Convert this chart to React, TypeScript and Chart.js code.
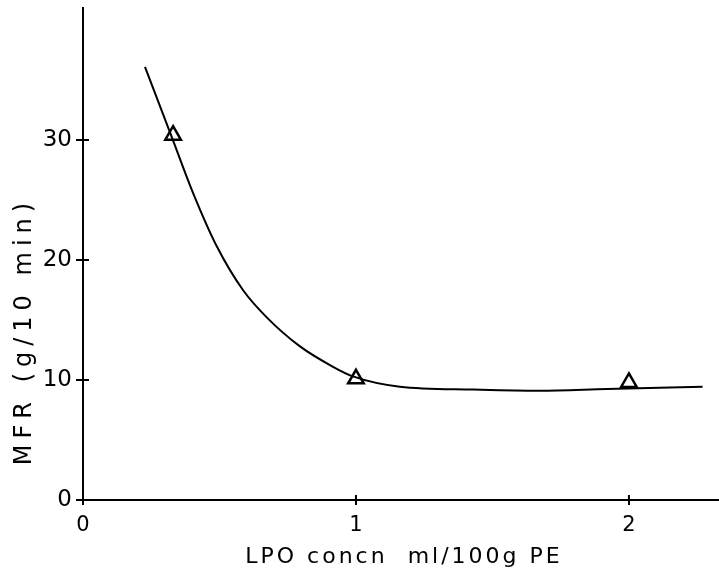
import React, { useEffect, useRef } from "react";
import { Chart, registerables } from "chart.js";

Chart.register(...registerables);

// Measured points (LPO concentration, MFR)
const pointX = [0.33, 1.0, 2.0];
const pointY = [30.4, 10.1, 9.8];

// Fitted curve
const curveX = [0.227, 0.326, 0.403, 0.491, 0.586, 0.674, 0.795, 0.916, 0.989, 1.161, 1.43, 1.67, 1.92, 2.27];
const curveY = [36.1, 30.2, 25.6, 21.1, 17.5, 15.2, 12.8, 11.1, 10.3, 9.44, 9.2, 9.1, 9.25, 9.44];

const xTicks = [0, 1, 2];
const yTicks = [0, 10, 20, 30];

const xTitle = "LPO concn  ml/100g PE";
const yTitle = "MFR (g/10 min)";

const FONT = "'DejaVu Sans', sans-serif";

const titlesAndInnerTicks = {
  id: "titlesAndInnerTicks",
  afterDraw(chart: any) {
    const ctx = chart.ctx as CanvasRenderingContext2D;
    const xs = chart.scales.x;
    const ys = chart.scales.y;
    const area = chart.chartArea;
    ctx.save();
    ctx.strokeStyle = "#000";
    ctx.lineWidth = 2;
    // inner halves of the crossing tick marks
    yTicks.forEach((v) => {
      if (v === 0) return;
      const py = ys.getPixelForValue(v);
      ctx.beginPath();
      ctx.moveTo(area.left, py);
      ctx.lineTo(area.left + 6, py);
      ctx.stroke();
    });
    xTicks.forEach((v) => {
      if (v === 0) return;
      const px = xs.getPixelForValue(v);
      ctx.beginPath();
      ctx.moveTo(px, area.bottom);
      ctx.lineTo(px, area.bottom - 5);
      ctx.stroke();
    });
    // axis titles
    ctx.fillStyle = "#000";
    ctx.textAlign = "center";
    ctx.textBaseline = "alphabetic";
    (ctx as any).letterSpacing = "3px";
    ctx.font = `22px ${FONT}`;
    ctx.fillText(xTitle, 404, 563);
    ctx.translate(31, 334);
    ctx.rotate(-Math.PI / 2);
    (ctx as any).letterSpacing = "6px";
    ctx.font = `24px ${FONT}`;
    ctx.fillText(yTitle, 3, 0);
    ctx.restore();
  },
};

export default function App() {
  const ref = useRef<HTMLCanvasElement>(null);
  useEffect(() => {
    document.body.style.margin = "0";
    const chart = new Chart(ref.current!, {
      type: "scatter",
      data: {
        datasets: [
          {
            type: "line",
            data: curveX.map((x, i) => ({ x, y: curveY[i] })),
            borderColor: "#000",
            borderWidth: 2,
            pointRadius: 0,
            cubicInterpolationMode: "monotone",
            fill: false,
          } as any,
          {
            data: pointX.map((x, i) => ({ x, y: pointY[i] })),
            pointStyle: "triangle",
            pointRadius: 9,
            borderColor: "#000",
            borderWidth: 2.5,
            backgroundColor: "rgba(0,0,0,0)",
          },
        ],
      },
      options: {
        responsive: false,
        animation: false,
        layout: { autoPadding: false, padding: { top: 8, left: 0, right: 0, bottom: 0 } } as any,
        plugins: { legend: { display: false }, tooltip: { enabled: false } },
        scales: {
          x: {
            type: "linear",
            min: 0,
            max: 2.33,
            afterBuildTicks: (s: any) => {
              s.ticks = xTicks.map((value) => ({ value }));
            },
            afterFit: (s: any) => {
              s.height = 71;
              s.paddingLeft = 0;
              s.paddingRight = 0;
            },
            border: { display: true, color: "#000", width: 2 },
            grid: { drawOnChartArea: false, color: "#000", lineWidth: 2, tickLength: 5, tickWidth: 2 } as any,
            ticks: {
              color: "#000",
              padding: 8,
              font: { family: FONT, size: 21 },
              maxRotation: 0,
              callback: (v: any) => String(v),
            },
          },
          y: {
            type: "linear",
            min: 0,
            max: 41,
            afterBuildTicks: (s: any) => {
              s.ticks = yTicks.map((value) => ({ value }));
            },
            afterFit: (s: any) => {
              s.width = 83;
              s.paddingTop = 0;
              s.paddingBottom = 0;
            },
            border: { display: true, color: "#000", width: 2 },
            grid: { drawOnChartArea: false, color: "#000", lineWidth: 2, tickLength: 7, tickWidth: 2 } as any,
            ticks: {
              color: "#000",
              padding: 4,
              font: { family: FONT, size: 23 },
              callback: (v: any) => String(v),
            },
          },
        },
      },
      plugins: [titlesAndInnerTicks],
    });
    return () => chart.destroy();
  }, []);
  return <canvas ref={ref} width={719} height={571} style={{ display: "block" }} />;
}
